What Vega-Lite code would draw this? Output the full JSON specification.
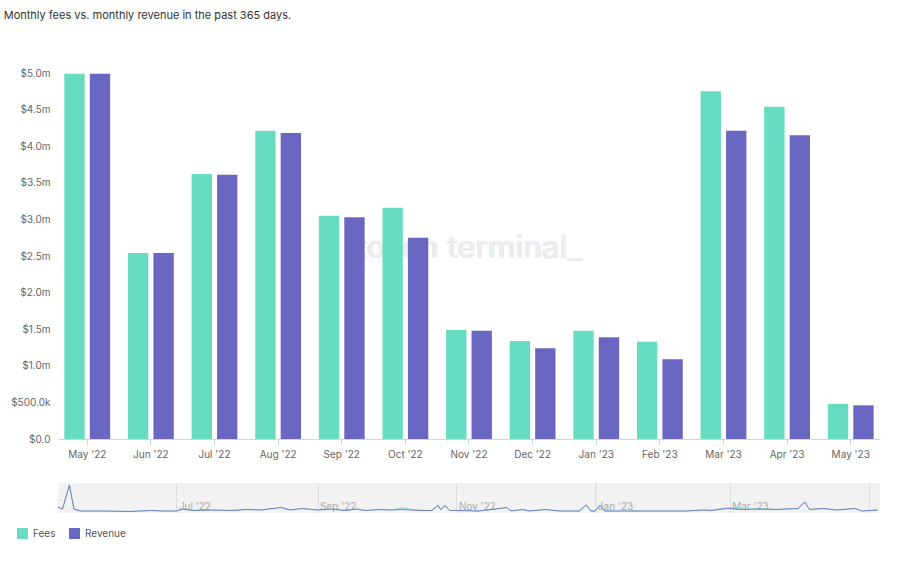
{
  "$schema": "https://vega.github.io/schema/vega-lite/v6.json",
  "background": "white",
  "padding": {"left": 3, "top": 10, "right": 10, "bottom": 5},
  "title": {"text": "Monthly fees vs. monthly revenue in the past 365 days.", "anchor": "start", "fontSize": 11, "fontWeight": "normal", "color": "#333", "offset": 47, "dx": -7},
  "config": {"font": "Inter", "view": {"stroke": null}},
  "resolve": {"legend": {"color": "independent"}},
  "spacing": 23,
  "vconcat": [
    {
      "width": 822,
      "height": 366,
      "data": {"values": [
        {"month": "May '22", "series": "Fees", "value": 4990000},
        {"month": "May '22", "series": "Revenue", "value": 4990000},
        {"month": "Jun '22", "series": "Fees", "value": 2540000},
        {"month": "Jun '22", "series": "Revenue", "value": 2540000},
        {"month": "Jul '22", "series": "Fees", "value": 3620000},
        {"month": "Jul '22", "series": "Revenue", "value": 3610000},
        {"month": "Aug '22", "series": "Fees", "value": 4210000},
        {"month": "Aug '22", "series": "Revenue", "value": 4180000},
        {"month": "Sep '22", "series": "Fees", "value": 3050000},
        {"month": "Sep '22", "series": "Revenue", "value": 3030000},
        {"month": "Oct '22", "series": "Fees", "value": 3160000},
        {"month": "Oct '22", "series": "Revenue", "value": 2750000},
        {"month": "Nov '22", "series": "Fees", "value": 1490000},
        {"month": "Nov '22", "series": "Revenue", "value": 1480000},
        {"month": "Dec '22", "series": "Fees", "value": 1340000},
        {"month": "Dec '22", "series": "Revenue", "value": 1240000},
        {"month": "Jan '23", "series": "Fees", "value": 1480000},
        {"month": "Jan '23", "series": "Revenue", "value": 1390000},
        {"month": "Feb '23", "series": "Fees", "value": 1330000},
        {"month": "Feb '23", "series": "Revenue", "value": 1090000},
        {"month": "Mar '23", "series": "Fees", "value": 4750000},
        {"month": "Mar '23", "series": "Revenue", "value": 4210000},
        {"month": "Apr '23", "series": "Fees", "value": 4540000},
        {"month": "Apr '23", "series": "Revenue", "value": 4150000},
        {"month": "May '23", "series": "Fees", "value": 480000},
        {"month": "May '23", "series": "Revenue", "value": 460000}
      ]},
      "encoding": {
        "x": {"field": "month", "type": "nominal", "sort": ["May '22", "Jun '22", "Jul '22", "Aug '22", "Sep '22", "Oct '22", "Nov '22", "Dec '22", "Jan '23", "Feb '23", "Mar '23", "Apr '23", "May '23"],
          "scale": {"paddingInner": 0.28, "paddingOuter": 0.1},
          "axis": {"title": null, "labelAngle": 0, "labelColor": "#666", "labelFontSize": 10, "domainColor": "#ccd6eb", "tickColor": "#ccd6eb", "tickSize": 6, "labelPadding": 4}}
      },
      "layer": [
        {
          "mark": {"type": "text", "text": "token terminal_", "fontSize": 31, "fontWeight": 500, "color": "#ededf1", "baseline": "middle", "align": "center"},
          "encoding": {
            "x": {"datum": "Nov '22"},
            "y": {"datum": 2600000, "type": "quantitative", "scale": {"domain": [0, 5000000], "nice": false},
              "axis": {"title": null, "values": [0, 500000, 1000000, 1500000, 2000000, 2500000, 3000000, 3500000, 4000000, 4500000, 5000000],
                "labelExpr": "datum.value == 0 ? '$0.0' : (datum.value < 1000000 ? '$' + format(datum.value/1000, '.1f') + 'k' : '$' + format(datum.value/1000000, '.1f') + 'm')",
                "labelOverlap": false,
                "domain": false, "ticks": false, "gridColor": "#eeeeee", "labelColor": "#666", "labelFontSize": 10, "labelPadding": 8}}
          }
        },
        {
          "mark": {"type": "bar"},
          "encoding": {
            "xOffset": {"field": "series", "type": "nominal", "scale": {"paddingInner": 0.2}},
            "y": {"field": "value", "type": "quantitative", "scale": {"domain": [0, 5000000], "nice": false},
              "axis": {"title": null, "values": [0, 500000, 1000000, 1500000, 2000000, 2500000, 3000000, 3500000, 4000000, 4500000, 5000000],
                "labelExpr": "datum.value == 0 ? '$0.0' : (datum.value < 1000000 ? '$' + format(datum.value/1000, '.1f') + 'k' : '$' + format(datum.value/1000000, '.1f') + 'm')",
                "labelOverlap": false,
                "domain": false, "ticks": false, "gridColor": "#eeeeee", "labelColor": "#666", "labelFontSize": 10, "labelPadding": 8}},
            "color": {"field": "series", "type": "nominal", "scale": {"domain": ["Fees", "Revenue"], "range": ["#67dcc0", "#6a67c3"]}, "legend": null}
          }
        }
      ]
    },
    {
      "width": 822,
      "height": 30,
      "view": {"fill": "#f2f2f2", "stroke": null},
      "data": {"values": [
        {"date": "2022-05-10", "Fees": 210, "Revenue": 210},
        {"date": "2022-05-12", "Fees": 140, "Revenue": 140},
        {"date": "2022-05-15", "Fees": 980, "Revenue": 980},
        {"date": "2022-05-17", "Fees": 140, "Revenue": 140},
        {"date": "2022-05-20", "Fees": 70, "Revenue": 70},
        {"date": "2022-05-30", "Fees": 70, "Revenue": 70},
        {"date": "2022-06-10", "Fees": 53, "Revenue": 53},
        {"date": "2022-06-20", "Fees": 88, "Revenue": 88},
        {"date": "2022-06-25", "Fees": 70, "Revenue": 70},
        {"date": "2022-07-01", "Fees": 70, "Revenue": 70},
        {"date": "2022-07-04", "Fees": 140, "Revenue": 140},
        {"date": "2022-07-08", "Fees": 88, "Revenue": 88},
        {"date": "2022-07-16", "Fees": 105, "Revenue": 105},
        {"date": "2022-07-25", "Fees": 88, "Revenue": 88},
        {"date": "2022-08-01", "Fees": 123, "Revenue": 123},
        {"date": "2022-08-07", "Fees": 105, "Revenue": 105},
        {"date": "2022-08-16", "Fees": 193, "Revenue": 193},
        {"date": "2022-08-20", "Fees": 105, "Revenue": 105},
        {"date": "2022-08-25", "Fees": 158, "Revenue": 158},
        {"date": "2022-09-01", "Fees": 105, "Revenue": 105},
        {"date": "2022-09-07", "Fees": 140, "Revenue": 140},
        {"date": "2022-09-13", "Fees": 88, "Revenue": 88},
        {"date": "2022-09-18", "Fees": 140, "Revenue": 140},
        {"date": "2022-09-22", "Fees": 88, "Revenue": 88},
        {"date": "2022-09-28", "Fees": 123, "Revenue": 123},
        {"date": "2022-10-03", "Fees": 105, "Revenue": 105},
        {"date": "2022-10-08", "Fees": 175, "Revenue": 123},
        {"date": "2022-10-16", "Fees": 95, "Revenue": 88},
        {"date": "2022-10-21", "Fees": 88, "Revenue": 88},
        {"date": "2022-10-24", "Fees": 263, "Revenue": 263},
        {"date": "2022-10-25", "Fees": 123, "Revenue": 123},
        {"date": "2022-10-27", "Fees": 263, "Revenue": 263},
        {"date": "2022-10-29", "Fees": 88, "Revenue": 88},
        {"date": "2022-11-01", "Fees": 88, "Revenue": 88},
        {"date": "2022-11-11", "Fees": 70, "Revenue": 70},
        {"date": "2022-11-23", "Fees": 193, "Revenue": 193},
        {"date": "2022-11-25", "Fees": 70, "Revenue": 70},
        {"date": "2022-11-30", "Fees": 123, "Revenue": 123},
        {"date": "2022-12-03", "Fees": 70, "Revenue": 70},
        {"date": "2022-12-10", "Fees": 123, "Revenue": 123},
        {"date": "2022-12-16", "Fees": 70, "Revenue": 70},
        {"date": "2022-12-25", "Fees": 70, "Revenue": 70},
        {"date": "2022-12-28", "Fees": 280, "Revenue": 280},
        {"date": "2022-12-30", "Fees": 70, "Revenue": 70},
        {"date": "2023-01-01", "Fees": 70, "Revenue": 70},
        {"date": "2023-01-03", "Fees": 280, "Revenue": 280},
        {"date": "2023-01-05", "Fees": 70, "Revenue": 70},
        {"date": "2023-01-15", "Fees": 70, "Revenue": 70},
        {"date": "2023-01-28", "Fees": 70, "Revenue": 70},
        {"date": "2023-02-10", "Fees": 70, "Revenue": 70},
        {"date": "2023-02-17", "Fees": 105, "Revenue": 105},
        {"date": "2023-02-21", "Fees": 95, "Revenue": 88},
        {"date": "2023-02-28", "Fees": 193, "Revenue": 158},
        {"date": "2023-03-07", "Fees": 130, "Revenue": 123},
        {"date": "2023-03-14", "Fees": 150, "Revenue": 140},
        {"date": "2023-03-22", "Fees": 130, "Revenue": 123},
        {"date": "2023-03-31", "Fees": 165, "Revenue": 158},
        {"date": "2023-04-03", "Fees": 385, "Revenue": 385},
        {"date": "2023-04-05", "Fees": 123, "Revenue": 123},
        {"date": "2023-04-11", "Fees": 158, "Revenue": 158},
        {"date": "2023-04-17", "Fees": 105, "Revenue": 105},
        {"date": "2023-04-25", "Fees": 158, "Revenue": 158},
        {"date": "2023-04-28", "Fees": 70, "Revenue": 70},
        {"date": "2023-05-05", "Fees": 105, "Revenue": 105}
      ]},
      "transform": [{"fold": ["Fees", "Revenue"], "as": ["series", "value"]}],
      "mark": {"type": "line", "strokeWidth": 1, "opacity": 0.8},
      "encoding": {
        "x": {"field": "date", "type": "temporal",
          "scale": {"type": "utc", "domain": [{"year": 2022, "month": 5, "date": 10, "utc": true}, {"year": 2023, "month": 5, "date": 6, "utc": true}]},
          "axis": {"title": null, "values": [
              {"year": 2022, "month": 7, "date": 1, "utc": true},
              {"year": 2022, "month": 9, "date": 1, "utc": true},
              {"year": 2022, "month": 11, "date": 1, "utc": true},
              {"year": 2023, "month": 1, "date": 1, "utc": true},
              {"year": 2023, "month": 3, "date": 1, "utc": true},
              {"year": 2023, "month": 5, "date": 1, "utc": true}],
            "labelExpr": "utcmonth(datum.value) == 4 ? '' : utcFormat(datum.value, \"%b '%y\")",
            "grid": true, "gridColor": "#dddddd", "domain": false, "ticks": false,
            "labelAlign": "left", "labelBaseline": "bottom", "labelPadding": -2, "labelOffset": 2,
            "labelColor": "#aaaaaa", "labelFontSize": 10, "labelFlush": false}},
        "y": {"field": "value", "type": "quantitative", "scale": {"domain": [0, 1050], "nice": false}, "axis": null},
        "color": {"field": "series", "type": "nominal",
          "legend": {"title": null, "orient": "none", "legendX": -41, "legendY": 45, "direction": "horizontal",
            "symbolType": "square", "symbolSize": 9, "symbolStrokeWidth": 8, "symbolOpacity": 1, "labelFontSize": 10, "labelColor": "#555", "columnPadding": 1, "labelOffset": 5}}
      }
    }
  ]
}
